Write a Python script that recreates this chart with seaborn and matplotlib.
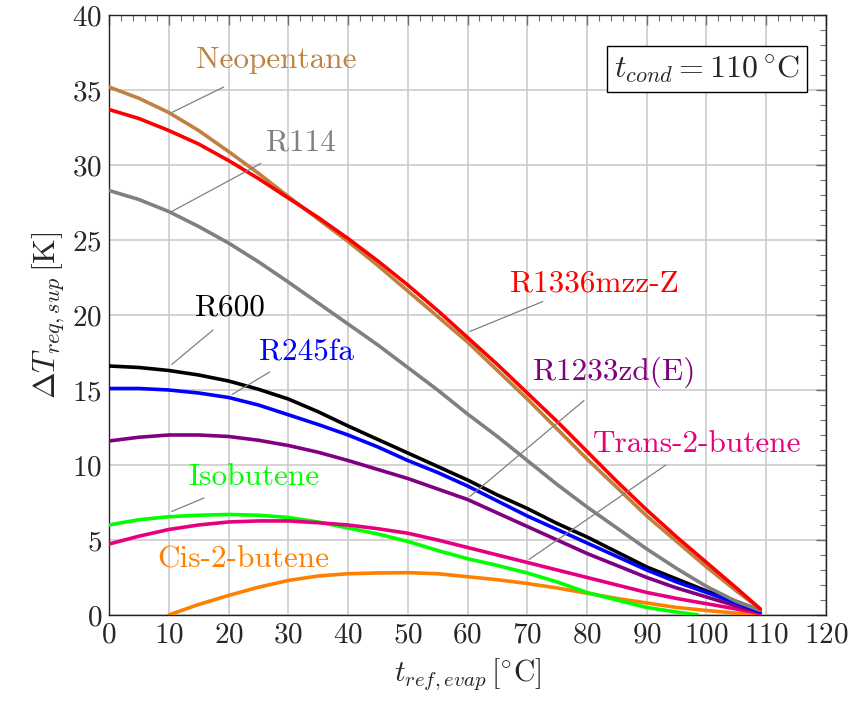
import numpy as np
import pandas as pd
import matplotlib
matplotlib.use("Agg")
import matplotlib.pyplot as plt
import seaborn as sns
from matplotlib.ticker import MultipleLocator

sns.set_theme(style="white")
plt.rcParams['font.family'] = ['cmr10', 'DejaVu Serif']
plt.rcParams['mathtext.fontset'] = 'cm'
plt.rcParams['axes.formatter.use_mathtext'] = True
plt.rcParams['axes.unicode_minus'] = False

x_std = [0, 5, 10, 15, 20, 25, 30, 35, 40, 45, 50, 55, 60, 65, 70, 75, 80, 85, 90, 95, 100, 105, 109]

neopentane = [35.2, 34.45, 33.5, 32.3, 30.9, 29.45, 27.9, 26.4, 24.9, 23.3, 21.6, 19.9, 18.2, 16.3, 14.4, 12.4, 10.4, 8.5, 6.6, 4.9, 3.2, 1.6, 0.4]
r1336 = [33.7, 33.1, 32.3, 31.4, 30.3, 29.1, 27.8, 26.5, 25.1, 23.6, 22.0, 20.3, 18.5, 16.7, 14.8, 12.9, 10.9, 8.9, 7.0, 5.2, 3.5, 1.8, 0.4]
r114 = [28.3, 27.7, 26.9, 25.9, 24.8, 23.55, 22.2, 20.8, 19.4, 18.0, 16.5, 15.0, 13.4, 11.9, 10.3, 8.7, 7.2, 5.8, 4.4, 3.1, 1.9, 0.9, 0.3]
r600 = [16.6, 16.5, 16.3, 16.0, 15.6, 15.05, 14.4, 13.55, 12.6, 11.7, 10.8, 9.9, 9.0, 8.0, 7.1, 6.1, 5.2, 4.2, 3.2, 2.4, 1.6, 0.9, 0.3]
r245fa = [15.1, 15.1, 15.0, 14.8, 14.5, 14.0, 13.35, 12.7, 12.0, 11.2, 10.3, 9.5, 8.6, 7.6, 6.6, 5.7, 4.8, 3.9, 3.0, 2.2, 1.5, 0.8, 0.2]
r1233 = [11.6, 11.85, 12.0, 12.0, 11.9, 11.65, 11.3, 10.85, 10.3, 9.7, 9.1, 8.4, 7.7, 6.8, 5.9, 5.0, 4.1, 3.3, 2.5, 1.8, 1.2, 0.6, 0.2]
trans2 = [4.73, 5.25, 5.7, 6.0, 6.2, 6.27, 6.27, 6.15, 6.0, 5.75, 5.45, 5.0, 4.5, 4.0, 3.5, 3.0, 2.5, 2.0, 1.5, 1.1, 0.75, 0.4, 0.1]

x_iso = [0, 5, 10, 15, 20, 25, 30, 35, 40, 45, 50, 55, 60, 65, 70, 75, 80, 85, 90, 95, 98.6]
isobutene = [6.0, 6.35, 6.55, 6.65, 6.7, 6.65, 6.5, 6.2, 5.8, 5.4, 4.9, 4.3, 3.75, 3.3, 2.8, 2.2, 1.5, 1.0, 0.5, 0.2, 0.0]

x_cis = [10, 15, 20, 25, 30, 35, 40, 45, 50, 55, 60, 65, 70, 75, 80, 85, 90, 95, 100, 105, 109]
cis2 = [0.0, 0.7, 1.3, 1.85, 2.3, 2.6, 2.75, 2.8, 2.82, 2.75, 2.55, 2.35, 2.1, 1.8, 1.45, 1.1, 0.8, 0.5, 0.3, 0.12, 0.05]

series = [
    ("Cis-2-butene", x_cis, cis2, "#FF8000"),
    ("Isobutene", x_iso, isobutene, "#00FF00"),
    ("Trans-2-butene", x_std, trans2, "#E6007E"),
    ("R1233zd(E)", x_std, r1233, "#800080"),
    ("R600", x_std, r600, "#000000"),
    ("R245fa", x_std, r245fa, "#0000FF"),
    ("R114", x_std, r114, "#808080"),
    ("Neopentane", x_std, neopentane, "#BF8040"),
    ("R1336mzz-Z", x_std, r1336, "#FF0000"),
]

frames = []
for name, xs, ys, _ in series:
    frames.append(pd.DataFrame({"t": xs, "dT": ys, "fluid": name}))
df = pd.concat(frames, ignore_index=True)
palette = {name: c for name, _, _, c in series}
order = [name for name, _, _, _ in series]

fig = plt.figure(figsize=(8.49, 7.05), dpi=100)
ax = fig.add_axes([0.1284, 0.1277, 0.8445, 0.851])

sns.lineplot(data=df, x="t", y="dT", hue="fluid", hue_order=order, palette=palette,
             estimator=None, sort=False, legend=False, lw=2.6, ax=ax, zorder=3)

ax.set_xlim(0, 120)
ax.set_ylim(0, 40)
ax.xaxis.set_major_locator(MultipleLocator(10))
ax.xaxis.set_minor_locator(MultipleLocator(2))
ax.yaxis.set_major_locator(MultipleLocator(5))
ax.yaxis.set_minor_locator(MultipleLocator(1))
ax.grid(True, which="major", color="#C8C8C8", lw=1.1, zorder=0)
ax.tick_params(which="both", direction="in", top=True, right=True, color="#707070")
ax.tick_params(which="major", length=7, width=1.0, labelsize=21, pad=5)
ax.tick_params(which="minor", length=4, width=0.8)
for s in ax.spines.values():
    s.set_color("#222222")
    s.set_linewidth(1.0)

ax.set_xlabel(r"$t_{ref,evap}\,[^{\circ}\mathrm{C}]$", fontsize=21.5, labelpad=6)
ax.set_ylabel(r"$\Delta T_{req,sup}\,[\mathrm{K}]$", fontsize=23, labelpad=4)

# labels: (text, colour, text pos, pointer start, pointer end)
labels = [
    ("Neopentane", "#BF8040", (28.0, 37.0), (10.5, 33.5), (19.2, 35.2)),
    ("R114", "#808080", (32.2, 31.5), (10.5, 26.9), (25.4, 30.1)),
    ("R1336mzz-Z", "#FF0000", (81.2, 22.1), (60.4, 18.9), (72.6, 20.9)),
    ("R600", "#000000", (20.3, 20.5), (10.5, 16.7), (17.4, 19.0)),
    ("R245fa", "#0000FF", (33.0, 17.5), (20.6, 14.7), (26.9, 16.2)),
    ("R1233zd(E)", "#800080", (84.5, 16.2), (60.4, 7.9), (79.5, 14.3)),
    ("Trans-2-butene", "#E6007E", (98.4, 11.4), (70.3, 3.7), (93.2, 10.0)),
    ("Isobutene", "#00FF00", (24.3, 9.2), (10.5, 6.9), (15.9, 7.8)),
    ("Cis-2-butene", "#FF8000", (22.4, 3.7), None, None),
]
for text, col, pos, p0, p1 in labels:
    ax.text(pos[0], pos[1], text, color=col, fontsize=22.5, ha="center", va="center", zorder=5)
    if p0 is not None:
        ax.plot([p0[0], p1[0]], [p0[1], p1[1]], color="#808080", lw=0.9, zorder=4)

ax.text(100.1, 36.4, r"$t_{cond} = 110\,^{\circ}\mathrm{C}$", fontsize=23, ha="center", va="center",
        bbox=dict(boxstyle="square,pad=0.22", fc="white", ec="black", lw=1.0), zorder=6)

fig.savefig("out.png", dpi=100)
